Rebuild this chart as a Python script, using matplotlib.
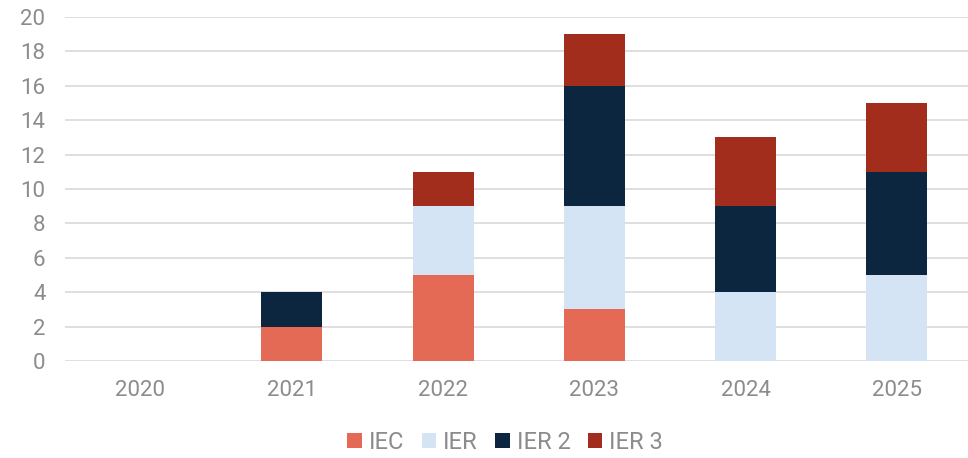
import matplotlib.pyplot as plt
import numpy as np

years = ["2020", "2021", "2022", "2023", "2024", "2025"]
iec = [0, 2, 5, 3, 0, 0]
ier = [0, 0, 4, 6, 4, 5]
ier2 = [0, 2, 0, 7, 5, 6]
ier3 = [0, 0, 2, 3, 4, 4]

series = [("IEC", iec, "#E46A55"), ("IER", ier, "#D5E4F5"),
          ("IER 2", ier2, "#0C2640"), ("IER 3", ier3, "#A32D1C")]

plt.rcParams['font.family'] = ['Roboto', 'DejaVu Sans']
text_col = "#8C8C8C"

fig = plt.figure(figsize=(9.68, 4.58), dpi=100)
ax = fig.add_axes([0.067, 0.212, 0.933, 0.751])

x = np.arange(len(years))
bottom = np.zeros(len(years))
for name, vals, col in series:
    vals = np.array(vals, dtype=float)
    ax.bar(x, vals, 0.403, bottom=bottom, color=col, label=name, zorder=3)
    bottom += vals

ax.set_xlim(-0.5, 5.47)
ax.set_ylim(0, 20)
ax.set_yticks(range(0, 21, 2))
ax.set_xticks(x)
ax.set_xticklabels(years)
ax.yaxis.grid(True, color="#D9D9D9", linewidth=1.2, zorder=0)
for s in ax.spines.values():
    s.set_visible(False)
ax.tick_params(axis="both", length=0, labelsize=16, labelcolor=text_col)
ax.tick_params(axis="x", pad=14)
ax.tick_params(axis="y", pad=14)

leg = fig.legend(loc="center", bbox_to_anchor=(0.522, 0.034), ncol=4, frameon=False,
                 fontsize=17, handlelength=0.6, handleheight=0.6, handletextpad=0.3,
                 columnspacing=0.75)
for t in leg.get_texts():
    t.set_color(text_col)

fig.savefig("out.png", dpi=100)
